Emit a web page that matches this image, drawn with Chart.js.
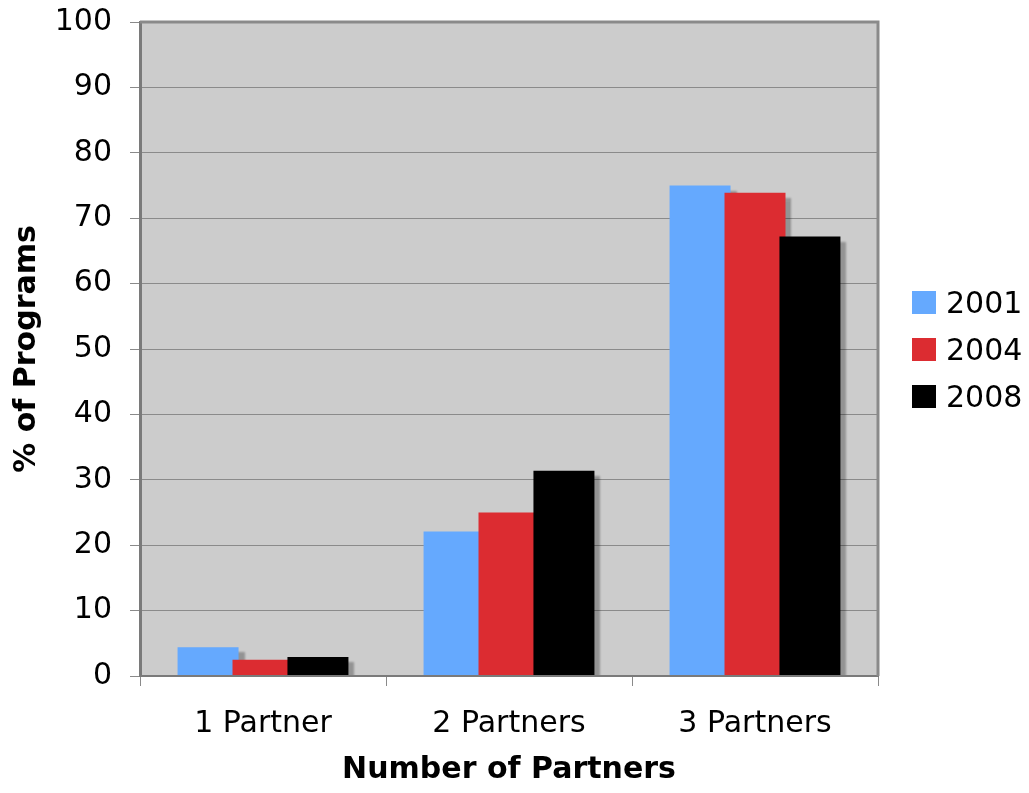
<!DOCTYPE html>
<html>
<head>
<meta charset="utf-8">
<script src="https://cdn.jsdelivr.net/npm/chart.js@4"></script>
<style>
  html, body { margin: 0; padding: 0; background: #fff; }
  #wrap { position: relative; width: 1029px; height: 793px; }
  #legend { position: absolute; left: 912px; top: 290px; font-family: 'DejaVu Sans', Verdana, sans-serif; font-size: 30px; color: #000; }
  #legend .item { display: flex; align-items: center; height: 25px; margin-bottom: 22px; }
  #legend .box { width: 24px; height: 23px; margin-right: 10px; }
</style>
</head>
<body>
<div id="wrap">
  <canvas id="partnersChart"></canvas>
  <div id="legend"></div>
</div>
<script>
// data
const categories = ['1 Partner', '2 Partners', '3 Partners'];
const years = ['2001', '2004', '2008'];
const values2001 = [4.4, 22.1, 75.0];
const values2004 = [2.5, 25.0, 73.9];
const values2008 = [2.9, 31.4, 67.2];
const yTicks = [0, 10, 20, 30, 40, 50, 60, 70, 80, 90, 100];

const colors = ['#65a9fe', '#dc2c31', '#000000'];
const FONT = "'DejaVu Sans', Verdana, sans-serif";

// grey plot area with its frame
const plotArea = {
    id: 'plotArea',
    beforeDraw(chart) {
        const { ctx, chartArea: a } = chart;
        ctx.save();
        ctx.fillStyle = '#cccccc';
        ctx.fillRect(a.left, a.top, a.right - a.left, a.bottom - a.top);
        ctx.restore();
    },
    afterDraw(chart) {
        const { ctx, chartArea: a } = chart;
        ctx.save();
        ctx.strokeStyle = '#8a8a8a';
        ctx.lineWidth = 3;
        ctx.beginPath();
        ctx.moveTo(a.left, a.top);
        ctx.lineTo(a.right, a.top);
        ctx.lineTo(a.right, a.bottom);
        ctx.stroke();
        ctx.restore();
    }
};

// draw the series left to right (later ones on top), each with a drop shadow
const shadowBars = {
    id: 'shadowBars',
    beforeDatasetsDraw(chart) {
        const { ctx, chartArea: a } = chart;
        for (let i = 0; i < chart.data.datasets.length; i++) {
            const meta = chart.getDatasetMeta(i);
            if (meta.hidden) continue;
            ctx.save();
            ctx.beginPath();
            ctx.rect(a.left, a.top, a.right - a.left, a.bottom - a.top - 1);
            ctx.clip();
            ctx.shadowColor = 'rgba(0,0,0,0.28)';
            ctx.shadowOffsetX = 6;
            ctx.shadowOffsetY = 5;
            ctx.shadowBlur = 2;
            meta.controller.draw();
            ctx.restore();
        }
        return false;
    }
};

// html legend built from the chart's own legend items
const htmlLegend = {
    id: 'htmlLegend',
    afterUpdate(chart) {
        const box = document.getElementById('legend');
        box.innerHTML = '';
        const items = chart.options.plugins.legend.labels.generateLabels(chart);
        items.forEach(item => {
            const row = document.createElement('div');
            row.className = 'item';
            const sw = document.createElement('span');
            sw.className = 'box';
            sw.style.background = item.fillStyle;
            const txt = document.createElement('span');
            txt.textContent = item.text;
            row.appendChild(sw);
            row.appendChild(txt);
            box.appendChild(row);
        });
    }
};

const datasets = [values2001, values2004, values2008].map((vals, i) => ({
    label: years[i],
    data: vals,
    backgroundColor: colors[i],
    borderWidth: 0
}));

new Chart(document.getElementById('partnersChart'), {
    type: 'bar',
    data: { labels: categories, datasets: datasets },
    options: {
        responsive: true,
        maintainAspectRatio: false,
        animation: false,
        categoryPercentage: 0.67,
        barPercentage: 1.11,
        layout: { padding: { left: 9, top: 22, right: 151, bottom: 5 } },
        plugins: {
            legend: { display: false },
            tooltip: { enabled: false }
        },
        scales: {
            x: {
                afterFit(axis) { axis.height = 112; },
                grid: {
                    offset: true,
                    drawOnChartArea: false,
                    tickLength: 10,
                    color: '#8a8a8a'
                },
                border: { color: '#7a7a7a', width: 2 },
                ticks: {
                    color: '#000',
                    padding: 20,
                    font: { family: FONT, size: 30 }
                },
                title: {
                    display: true,
                    text: 'Number of Partners',
                    color: '#000',
                    padding: { top: 0, bottom: 0 },
                    font: { family: FONT, size: 30, weight: 'bold' }
                }
            },
            y: {
                min: 0,
                max: 100,
                afterFit(axis) {
                    axis.width = 131;
                    axis.paddingTop = 0;
                    axis.paddingBottom = 0;
                },
                afterBuildTicks(axis) {
                    axis.ticks = yTicks.map(v => ({ value: v }));
                },
                grid: {
                    tickLength: 10,
                    color: '#8a8a8a'
                },
                border: { color: '#7a7a7a', width: 3 },
                ticks: {
                    color: '#000',
                    padding: 18,
                    font: { family: FONT, size: 30 }
                },
                title: {
                    display: true,
                    text: '% of Programs',
                    color: '#000',
                    padding: { top: 0, bottom: 0 },
                    font: { family: FONT, size: 30, weight: 'bold' }
                }
            }
        }
    },
    plugins: [plotArea, shadowBars, htmlLegend]
});
</script>
</body>
</html>
